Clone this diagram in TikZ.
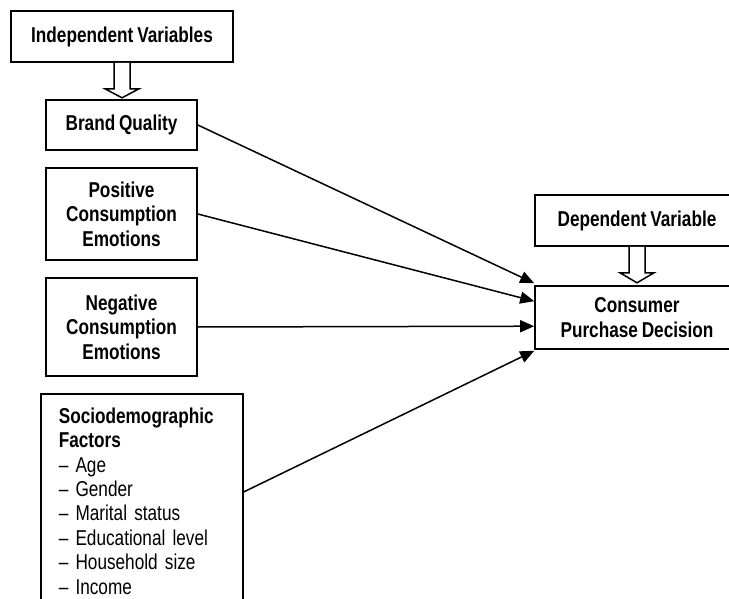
\documentclass[tikz,border=0pt]{standalone}
\usepackage{fontspec}
\setmainfont{Liberation Sans}[FakeStretch=0.8,WordSpace=0.8]
\usetikzlibrary{arrows.meta}
\begin{document}
\begin{tikzpicture}[x=1pt,y=-1pt,
  box/.style={draw, line width=1.6pt, font=\fontsize{21.5}{24.4}\selectfont\bfseries, align=center, inner sep=0pt},
  listbox/.style={draw, line width=1.6pt, font=\fontsize{21.5}{24.4}\selectfont, align=left, inner xsep=18pt, inner ysep=14pt},
  conn/.style={line width=1.5pt, -{Triangle[length=14pt,width=12pt]}},
  hollow/.style={draw, line width=1.5pt, fill=white, line join=miter}]
\useasboundingbox (0,0) rectangle (729,599);
\clip (0,0) rectangle (729,599);
% left column
\node[box, minimum width=222pt, minimum height=51pt] (indep) at (122,36.5) {Independent Variables};
\node[box, minimum width=151pt, minimum height=50pt] (brand) at (121.5,125) {Brand Quality};
\node[box, minimum width=151pt, minimum height=92pt] (pos) at (121.5,214) {Positive\\Consumption\\Emotions};
\node[box, minimum width=151pt, minimum height=98pt] (neg) at (121.5,327) {Negative\\Consumption\\Emotions};
\node[listbox, anchor=north west, text width=166pt] (socio) at (40,393)
  {\textbf{Sociodemographic}\\\textbf{Factors}\\– Age\\– Gender\\– Marital status\\– Educational level\\– Household size\\– Income};
% right column
\node[box, minimum width=204pt, minimum height=51pt] (dep) at (637,220.5) {Dependent Variable};
\node[box, minimum width=204pt, minimum height=63pt] (cons) at (637,317.5) {Consumer\\Purchase Decision};
% hollow arrows
\draw[hollow] ([xshift=-8pt]indep.south) -- ++(0,26) -- ++(-9,0) -- ++(17,9) -- ++(17,-9) -- ++(-9,0) -- ++(0,-26);
\draw[hollow] ([xshift=-8pt]dep.south) -- ++(0,26) -- ++(-9,0) -- ++(17,10) -- ++(17,-10) -- ++(-9,0) -- ++(0,-26);
% connectors
\draw[conn] (brand.east) -- ([yshift=2pt]cons.north west);
\draw[conn] (pos.east) -- ([yshift=-16pt]cons.north west);
\draw[conn] (neg.east) -- ([yshift=-41pt]cons.north west);
\draw[conn] ([yshift=-99pt]socio.north east) -- ([yshift=-1pt]cons.south west);
\end{tikzpicture}
\end{document}
